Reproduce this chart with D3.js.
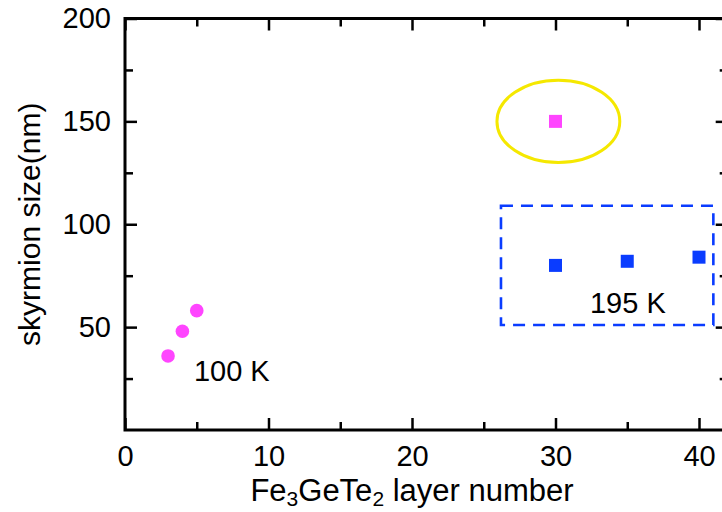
<!DOCTYPE html>
<html>
<head>
<meta charset="utf-8">
<script src="https://cdn.jsdelivr.net/npm/d3@7"></script>
<style>
  html, body { margin: 0; padding: 0; background: #fff; }
  svg { display: block; overflow: hidden; }
  text { font-family: "Liberation Sans", Arial, Helvetica, sans-serif; fill: #000; }
</style>
</head>
<body>
<svg id="chart" width="722" height="512"></svg>
<script>
// Skyrmion size versus Fe3GeTe2 layer number
const lowTempLayers = [3, 4, 5];          // 100 K, circles
const lowTempSize   = [36, 48, 58];
const highlightLayer = [30];              // circled point
const highlightSize  = [150];
const highTempLayers = [30, 35, 40];      // 195 K, squares
const highTempSize   = [80, 82, 84];

const xMajorTicks = [0, 10, 20, 30, 40];
const xMinorTicks = [5, 15, 25, 35];
const yMajorTicks = [50, 100, 150, 200];
const yMinorTicks = [25, 75, 125, 175];

const MAGENTA = "#ff45ff";
const BLUE = "#0a3cff";
const YELLOW = "#f5e800";
const FONT = '"Liberation Sans", Arial, Helvetica, sans-serif';

const svg = d3.select("#chart");
const x = d3.scaleLinear().domain([0, 42]).range([125, 727.7]);
const y = d3.scaleLinear().domain([0, 200]).range([430, 18.5]);

const plotLeft = x.range()[0], plotRight = x.range()[1];
const plotBottom = y.range()[0], plotTop = y.range()[1];

// Ticks pointing inwards on all four sides
function addAxis(axis, transform, labels) {
  const g = svg.append("g").attr("transform", transform).call(axis);
  g.select(".domain").remove();
  g.selectAll(".tick line").attr("stroke", "#000").attr("stroke-width", 2.5);
  g.selectAll("text").attr("font-size", 29).attr("fill", "#000").attr("font-family", FONT);
  if (!labels) g.selectAll("text").remove();
  return g;
}

addAxis(d3.axisBottom(x).tickValues(xMajorTicks).tickSize(-12).tickPadding(15).tickFormat(d3.format("d")),
  `translate(0,${plotBottom})`, true);
addAxis(d3.axisBottom(x).tickValues(xMinorTicks).tickSize(-8).tickFormat(""),
  `translate(0,${plotBottom})`, false);
addAxis(d3.axisTop(x).tickValues(xMajorTicks).tickSize(-12).tickFormat(""),
  `translate(0,${plotTop})`, false);
addAxis(d3.axisTop(x).tickValues(xMinorTicks).tickSize(-8).tickFormat(""),
  `translate(0,${plotTop})`, false);
addAxis(d3.axisLeft(y).tickValues(yMajorTicks).tickSize(-12).tickPadding(14).tickFormat(d3.format("d")),
  `translate(${plotLeft},0)`, true);
addAxis(d3.axisLeft(y).tickValues(yMinorTicks).tickSize(-8).tickFormat(""),
  `translate(${plotLeft},0)`, false);
addAxis(d3.axisRight(y).tickValues(yMajorTicks).tickSize(-12).tickFormat(""),
  `translate(${plotRight},0)`, false);
addAxis(d3.axisRight(y).tickValues(yMinorTicks).tickSize(-8).tickFormat(""),
  `translate(${plotRight},0)`, false);

// Frame
svg.append("rect")
  .attr("x", plotLeft).attr("y", plotTop)
  .attr("width", plotRight - plotLeft).attr("height", plotBottom - plotTop)
  .attr("fill", "none").attr("stroke", "#000").attr("stroke-width", 3);

// Axis titles
const xt = svg.append("text")
  .attr("x", x(20)).attr("y", 501)
  .attr("text-anchor", "middle").attr("font-size", 31);
xt.append("tspan").text("Fe");
xt.append("tspan").attr("font-size", 21).attr("dy", 5).text("3");
xt.append("tspan").attr("dy", -5).text("GeTe");
xt.append("tspan").attr("font-size", 21).attr("dy", 5).text("2");
xt.append("tspan").attr("dy", -5).text(" layer number");

svg.append("text")
  .attr("transform", `translate(40,${y(100)}) rotate(-90)`)
  .attr("text-anchor", "middle").attr("font-size", 30)
  .text("skyrmion size(nm)");

// 195 K group outline
const boxX = [26.2, 41.0], boxY = [51, 109];
svg.append("rect")
  .attr("x", x(boxX[0])).attr("y", y(boxY[1]))
  .attr("width", x(boxX[1]) - x(boxX[0]))
  .attr("height", y(boxY[0]) - y(boxY[1]))
  .attr("fill", "none").attr("stroke", BLUE)
  .attr("stroke-width", 2.6).attr("stroke-dasharray", "12,8");

// Highlight ellipse around the isolated point
const ell = { cx: 30.2, cy: 150, rx: 4.28, ry: 20 };
svg.append("ellipse")
  .attr("cx", x(ell.cx)).attr("cy", y(ell.cy))
  .attr("rx", x(ell.cx + ell.rx) - x(ell.cx))
  .attr("ry", y(ell.cy - ell.ry) - y(ell.cy))
  .attr("fill", "none").attr("stroke", YELLOW).attr("stroke-width", 3);

// Markers
const S = 13;
svg.append("g").selectAll("circle")
  .data(d3.zip(lowTempLayers, lowTempSize)).join("circle")
  .attr("cx", d => x(d[0])).attr("cy", d => y(d[1]))
  .attr("r", 6.8).attr("fill", MAGENTA);

svg.append("g").selectAll("rect")
  .data(d3.zip(highlightLayer, highlightSize)).join("rect")
  .attr("x", d => x(d[0]) - S / 2).attr("y", d => y(d[1]) - S / 2)
  .attr("width", S).attr("height", S).attr("fill", MAGENTA);

svg.append("g").selectAll("rect")
  .data(d3.zip(highTempLayers, highTempSize)).join("rect")
  .attr("x", d => x(d[0]) - S / 2).attr("y", d => y(d[1]) - S / 2)
  .attr("width", S).attr("height", S).attr("fill", BLUE);

// Temperature annotations
svg.append("text").attr("x", x(4.8)).attr("y", y(23.6))
  .attr("font-size", 29).text("100 K");
svg.append("text").attr("x", x(32.4)).attr("y", y(56.7))
  .attr("font-size", 29).text("195 K");
</script>
</body>
</html>
